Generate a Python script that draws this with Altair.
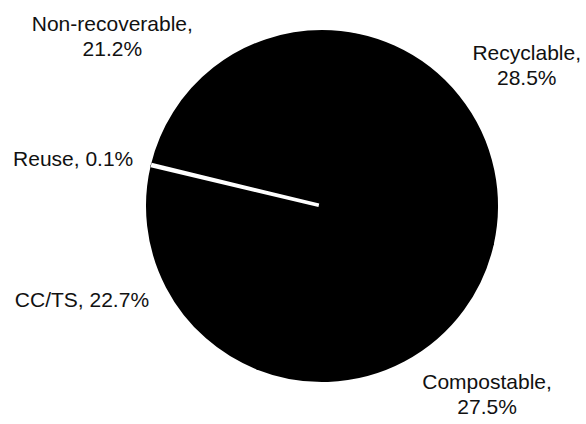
import math
import altair as alt
import pandas as pd

# ---- data ----
categories = ["Recyclable", "Compostable", "CC/TS", "Reuse", "Non-recoverable"]
shares = [28.5, 27.5, 22.7, 0.1, 21.2]
label_texts = [
    "Recyclable,\n28.5%",
    "Compostable,\n27.5%",
    "CC/TS, 22.7%",
    "Reuse, 0.1%",
    "Non-recoverable,\n21.2%",
]

# ---- label layout (polar placement around the pie centre) ----
label_angle_deg = [53.4, 137.0, 248.5, 280.4, 310.8]
label_radius_px = [255, 242, 258, 253, 277]

CX, CY, R = 322, 206, 175

df = pd.DataFrame({"category": categories, "share": shares, "idx": list(range(len(categories)))})
lab = pd.DataFrame({
    "label": label_texts,
    "ang": [a * math.pi / 180 for a in label_angle_deg],
    "rad": label_radius_px,
})

base = alt.Chart(df).transform_stack(
    stack="share", groupby=[], as_=["s0", "s1"], sort=[alt.SortField("idx", order="ascending")]
)

theta_scale = alt.Scale(domain=[0, 100])

pie = base.mark_arc(radius=R, fill="black", stroke="black", strokeWidth=2).encode(
    theta=alt.Theta("s0:Q", scale=theta_scale),
    theta2=alt.Theta2("s1:Q"),
    x=alt.value(CX),
    y=alt.value(CY),
)

reuse = base.transform_filter(alt.datum.category == "Reuse").mark_arc(
    radius=R - 1, innerRadius=5, fill="white", stroke="white", strokeWidth=3.5
).encode(
    theta=alt.Theta("s0:Q", scale=theta_scale),
    theta2=alt.Theta2("s1:Q"),
    x=alt.value(CX),
    y=alt.value(CY),
)

labels = alt.Chart(lab).mark_text(
    font="Liberation Sans", fontSize=21, lineBreak="\n", lineHeight=25,
    align="center", baseline="middle", color="#111111"
).encode(
    text="label:N",
    theta=alt.Theta("ang:Q", scale=None),
    radius=alt.Radius("rad:Q", scale=None),
    x=alt.value(CX),
    y=alt.value(CY),
)

chart = alt.layer(pie, reuse, labels).resolve_scale(theta="independent").properties(
    width=586, height=424, padding=0, autosize="none", background="white"
).configure_view(stroke=None)

chart.save("out.html", embed_options={"renderer": "svg", "actions": False})
